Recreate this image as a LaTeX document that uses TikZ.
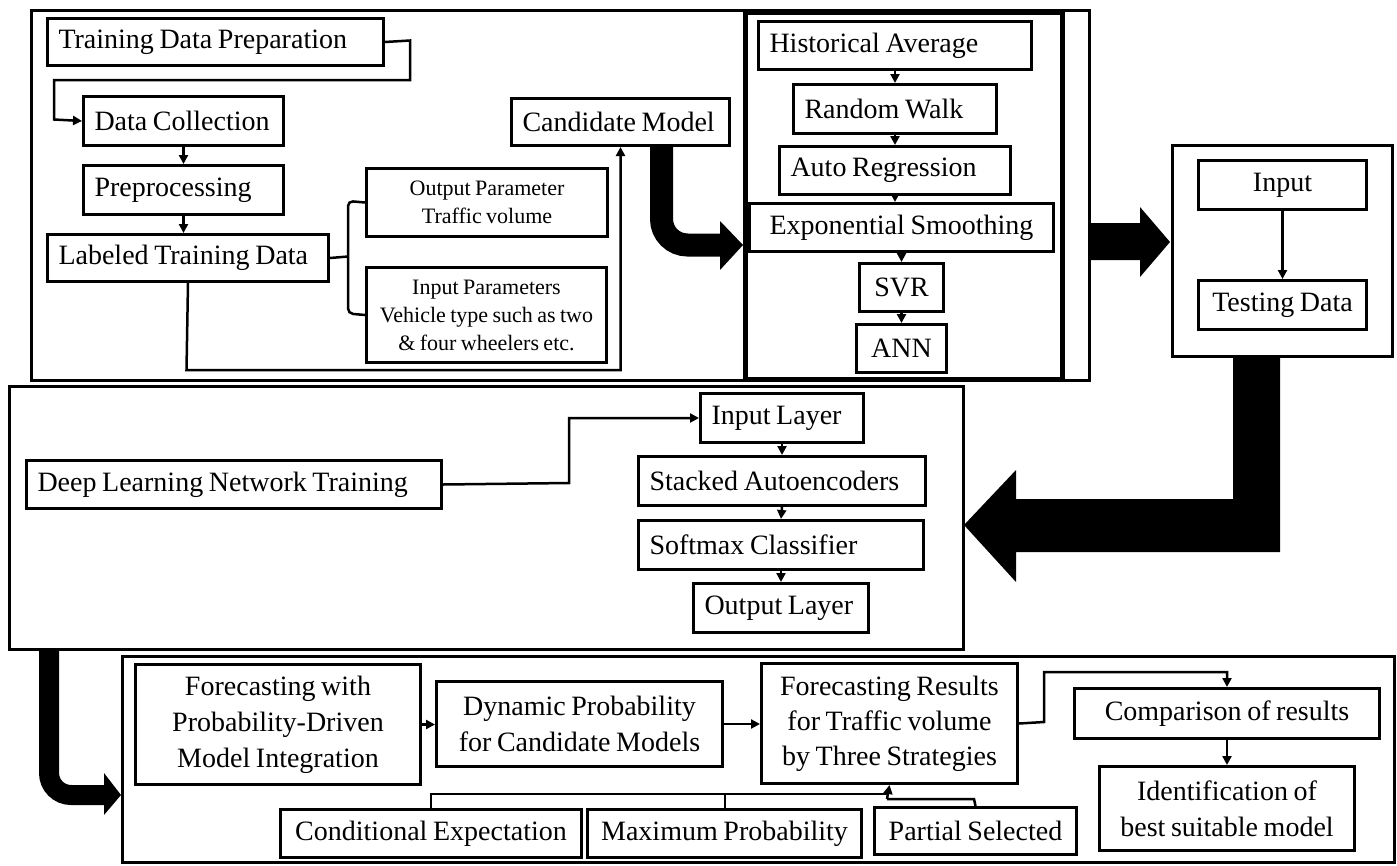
\documentclass[tikz,border=0pt]{standalone}
\usepackage{fontspec}
\setmainfont{Liberation Serif}[WordSpace=0.8]
\usetikzlibrary{arrows.meta,calc}
\begin{document}
\begin{tikzpicture}[x=1pt,y=-1pt,
  every node/.style={font=\fontsize{28}{36}\selectfont},
  bx/.style={draw, line width=3pt, anchor=north west, inner ysep=0pt},
  lb/.style={bx, inner xsep=11pt, align=flush left},
  cb/.style={bx, inner xsep=0pt, align=center},
  small/.style={font=\fontsize{22}{28}\selectfont},
  panel/.style={draw, line width=3pt, anchor=north west, inner sep=0pt},
  conn/.style={line width=2.5pt},
  arr/.style={conn, -{Triangle[length=9pt,width=9pt]}},
  blk/.style={fill=black},
]
\useasboundingbox (0,0) rectangle (1397,865);

% ---------- panel 1 ----------
\node[panel, minimum width=1058pt, minimum height=370pt] (p1) at (30,9) {};
\node[panel, line width=5pt, minimum width=317pt, minimum height=367pt] (mbox) at (743,10) {};

\node[lb, text width=314pt, minimum height=47pt] (tdp) at (46,17) {\mbox{Training Data Preparation}};
\node[lb, text width=178pt, minimum height=49pt] (dc) at (82,95) {\mbox{Data Collection}};
\node[lb, text width=178pt, minimum height=49pt] (pp) at (82,164) {\mbox{Preprocessing}};
\node[lb, text width=259pt, minimum height=47pt] (ltd) at (46,233) {\mbox{Labeled Training Data}};
\node[cb, small, minimum width=241pt, minimum height=68pt] (outp) at (365,167) {Output Parameter\\Traffic volume};
\node[cb, small, minimum width=240pt, minimum height=95pt] (inp) at (365,266) {Input Parameters\\Vehicle type such as two\\\& four wheelers etc.};
\node[lb, text width=196pt, minimum height=47pt] (cm) at (510,97) {\mbox{Candidate Model}};

\node[lb, text width=251pt, minimum height=48pt] (ha) at (757,20) {\mbox{Historical Average}};
\node[lb, text width=181pt, minimum height=49pt] (rw) at (792,83) {\mbox{Random Walk}};
\node[lb, text width=209pt, minimum height=48pt] (ar) at (778,145) {\mbox{Auto Regression}};
\node[cb, minimum width=304pt, minimum height=48pt] (es) at (748,202) {Exponential Smoothing};
\node[cb, minimum width=84pt, minimum height=48pt] (svr) at (858,262) {SVR};
\node[cb, minimum width=90pt, minimum height=48pt] (ann) at (855,323) {ANN};

% connectors panel 1
\coordinate (b1) at (410,40.5);
\coordinate (b2) at (410,80);
\coordinate (b3) at (54,119.5);
\draw[arr] (tdp.east) -- (b1) -- (b2) -| (b3) -- (dc.west);
\draw[arr] (dc.south) -- (pp.north);
\draw[arr] (pp.south) -- (pp.south |- ltd.north);
\coordinate (br) at (348,256.5);
\draw[conn] (ltd.east) -- (br);
\draw[conn, rounded corners=5pt] (outp.west) -- (348,201) -- (348,313.5) -- (inp.west);
\coordinate (lb1) at (186.5,370);
\draw[arr] (ltd.south) -- (lb1) -| (cm.south);

\draw[arr] (ha.south) -- (rw.north);
\draw[arr] (rw.south) -- (ar.north);
\draw[arr] (ar.south) -- (ar.south |- es.north);
\draw[arr] (es.south) -- (svr.north);
\draw[arr] (svr.south) -- (ann.north);

% thick curved arrow candidate -> models
\coordinate (c1) at (661.5,144);
\coordinate (c2) at (661.5,245);
\coordinate (c3) at (722,245);
\draw[line width=23pt, rounded corners=26pt] (c1) -- (c2) -- (c3);
\fill[blk] (720,221) -- (mbox.west |- c3) -- (720,270) -- cycle;

% ---------- right box ----------
\node[panel, minimum width=220pt, minimum height=211pt] (rbox) at (1171,144) {};
\node[cb, minimum width=168pt, minimum height=49pt] (inpt) at (1197,159) {Input};
\node[cb, minimum width=168pt, minimum height=49pt] (test) at (1197,279) {Testing Data};
\draw[arr] (inpt.south) -- (test.north);

% block arrow panel1 -> right box
\fill[blk] (1088,223) -- (1140,223) -- (1140,207) -- (1170,242) -- (1140,277) -- (1140,260) -- (1088,260) -- cycle;

% ---------- panel 2 ----------
\node[panel, minimum width=954pt, minimum height=263pt] (p2) at (8,385) {};
\node[lb, text width=393pt, minimum height=48pt] (dl) at (25,459) {\mbox{Deep Learning Network Training}};
\node[lb, text width=141pt, minimum height=49pt] (il) at (699,392) {\mbox{Input Layer}};
\node[lb, text width=265pt, minimum height=49pt] (sa) at (637,455) {\mbox{Stacked Autoencoders}};
\node[lb, text width=263pt, minimum height=49pt] (sc) at (637,519) {\mbox{Softmax Classifier}};
\node[lb, text width=153pt, minimum height=49pt] (ol) at (692,582) {\mbox{Output Layer}};

\coordinate (d1) at (569,483);
\draw[arr] (dl.east) -- (d1) |- (il.west);
\draw[arr] (il.south) -- (sa.north);
\draw[arr] (sa.south) -- (sc.north);
\draw[arr] (sc.south) -- (ol.north);

% L-shaped block arrow right box -> panel 2
\fill[blk] (1233,358) -- (1280,358) -- (1280,552) -- (1016,552) -- (1016,582) -- (964,525) -- (1016,470) -- (1016,499) -- (1233,499) -- cycle;

% ---------- panel 3 ----------
\node[panel, minimum width=1272pt, minimum height=206pt] (p3) at (121,655) {};
\node[cb, minimum width=285pt, minimum height=120pt] (fp) at (134,663) {Forecasting with\\Probability-Driven\\Model Integration};
\node[cb, minimum width=286pt, minimum height=85pt] (dp) at (435,680) {Dynamic Probability\\for Candidate Models};
\node[cb, minimum width=256pt, minimum height=120pt, font=\fontsize{28}{35}\selectfont] (fr) at (760,662) {Forecasting Results\\for Traffic volume\\by Three Strategies};
\node[cb, minimum width=301pt, minimum height=48pt] (ce) at (279,808) {Conditional Expectation};
\node[cb, minimum width=274pt, minimum height=48pt] (mp) at (586,808) {Maximum Probability};
\node[cb, minimum width=202pt, minimum height=47pt] (ps) at (873,806) {Partial Selected};
\node[cb, minimum width=305pt, minimum height=50pt] (comp) at (1073,687) {Comparison of results};
\node[cb, minimum width=255pt, minimum height=84pt] (idn) at (1098,765) {Identification of\\best suitable model};

\draw[arr] (fp.east) -- (dp.west |- fp.east);
\draw[arr] (dp.east) -- (fr.west |- dp.east);
\coordinate (s1) at (431,794);
\coordinate (s2) at (725,794);
\coordinate (s3) at (887,794);
\coordinate (s4) at (887,799);
\coordinate (s5) at (974,799);
\draw[conn] (s1 |- ce.north) -- (s1) -- (s3);
\draw[conn] (s2 |- mp.north) -- (s2);
\draw[conn] (ps.north) -- (s5) -- (s4);
\draw[arr] (s4) -- (fr.south);
\coordinate (f1) at (1044,722);
\coordinate (f2) at (1044,672);
\draw[arr] (fr.east) -- (f1) -- (f2) -| (comp.north);
\draw[arr] (comp.south) -- (idn.north);

% bottom-left curved block arrow
\coordinate (e1) at (49,648);
\coordinate (e2) at (49,795);
\coordinate (e3) at (106,795);
\draw[line width=20pt, rounded corners=22pt] (e1) -- (e2) -- (e3);
\fill[blk] (104,773) -- (p3.west |- e3) -- (104,815) -- cycle;
\end{tikzpicture}
\end{document}
